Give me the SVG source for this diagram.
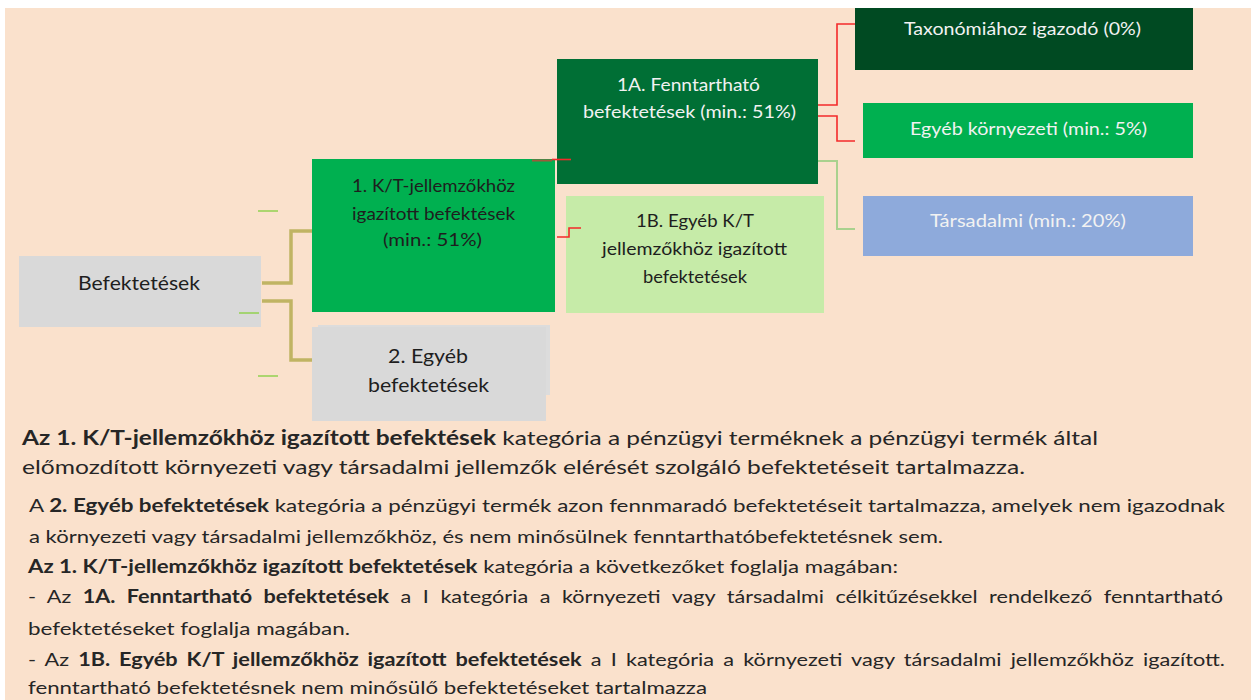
<svg xmlns="http://www.w3.org/2000/svg" width="1251" height="700" viewBox="0 0 1251 700">
<style>
  .lbl{font-family:Lato,"Open Sans","Liberation Sans",sans-serif;text-anchor:start}
  .dark{fill:#1e1e1e}
  .light{fill:#f2f2f2}
  .para{font-family:Lato,"Open Sans","Liberation Sans",sans-serif;fill:#262626}
  .b{font-weight:bold}
  .conn{fill:none;stroke-linejoin:miter}
  .olive{stroke:#c0b463;stroke-width:3.5}
  .red{stroke:#f42a2a;stroke-width:1.6}
  .lg{stroke:#a9d18e;stroke-width:2}
  .dash{stroke:#92d050;stroke-width:1.5}
</style>
<rect x="0" y="0" width="1251" height="700" fill="#ffffff"/>
<rect x="5" y="8" width="1246" height="692" fill="#fae1cc"/>

<g id="node-befektetesek">
  <rect x="19" y="256" width="242" height="71" fill="#d9d9d9"/>
  <text class="lbl dark" x="78" y="290" font-size="19" textLength="122" lengthAdjust="spacingAndGlyphs">Befektetések</text>
</g>
<g id="node-1">
  <rect x="312" y="159" width="243" height="153" fill="#00b050"/>
  <text class="lbl dark" x="352" y="192" font-size="17.5" textLength="163" lengthAdjust="spacingAndGlyphs">1. K/T-jellemzőkhöz</text>
  <text class="lbl dark" x="352" y="220" font-size="17.5" textLength="163" lengthAdjust="spacingAndGlyphs">igazított  befektések</text>
  <text class="lbl dark" x="383" y="246" font-size="17.5" textLength="99" lengthAdjust="spacingAndGlyphs">(min.: 51%)</text>
</g>
<g id="node-2">
  <rect x="318" y="325" width="232" height="70" fill="#dcdcdc"/>
  <rect x="312" y="327" width="234" height="94" fill="#d9d9d9"/>
  <text class="lbl dark" x="388" y="363" font-size="19" textLength="80" lengthAdjust="spacingAndGlyphs">2. Egyéb</text>
  <text class="lbl dark" x="368" y="392" font-size="19" textLength="121" lengthAdjust="spacingAndGlyphs">befektetések</text>
</g>
<g id="node-1a">
  <rect x="557" y="59" width="261" height="125" fill="#006f35"/>
  <text class="lbl light" x="617" y="91" font-size="17.5" textLength="143" lengthAdjust="spacingAndGlyphs">1A. Fenntartható</text>
  <text class="lbl light" x="583" y="118" font-size="17.5" textLength="213" lengthAdjust="spacingAndGlyphs">befektetések  (min.: 51%)</text>
</g>
<g id="node-1b">
  <rect x="566" y="196" width="258" height="117" fill="#c6eba8"/>
  <text class="lbl dark" x="636" y="227" font-size="16.5" textLength="118" lengthAdjust="spacingAndGlyphs">1B. Egyéb  K/T</text>
  <text class="lbl dark" x="602" y="255" font-size="16.5" textLength="185" lengthAdjust="spacingAndGlyphs">jellemzőkhöz  igazított</text>
  <text class="lbl dark" x="643" y="283" font-size="16.5" textLength="104" lengthAdjust="spacingAndGlyphs">befektetések</text>
</g>
<g id="node-taxonomia">
  <rect x="855" y="8" width="338" height="62" fill="#004a22"/>
  <text class="lbl light" x="904" y="35" font-size="17" textLength="237" lengthAdjust="spacingAndGlyphs">Taxonómiához  igazodó (0%)</text>
</g>
<g id="node-egyeb-kornyezeti">
  <rect x="863" y="103" width="330" height="55" fill="#00b050"/>
  <text class="lbl light" x="910" y="135" font-size="17" textLength="237" lengthAdjust="spacingAndGlyphs">Egyéb környezeti (min.: 5%)</text>
</g>
<g id="node-tarsadalmi">
  <rect x="863" y="196" width="330" height="60" fill="#8eaadb"/>
  <text class="lbl light" x="930" y="227" font-size="17" textLength="196" lengthAdjust="spacingAndGlyphs">Társadalmi  (min.: 20%)</text>
</g>

<g id="connectors">
  <path class="conn olive" d="M262,283 H291 V231 H312"/>
  <path class="conn olive" d="M262,301 H291 V360 H312"/>
  <path class="conn dash" d="M258,211 H278"/>
  <path class="conn dash" d="M239,313 H259"/>
  <path class="conn dash" d="M258,376 H278"/>
  <path class="conn" d="M532,160.5 H552" stroke="#9c5b3a" stroke-width="2"/>
  <path class="conn red" d="M552,159.5 H571"/>
  <path class="conn red" d="M557,237 H569 V228 H581"/>
  <path class="conn red" d="M818,105 H837 V24 H855"/>
  <path class="conn red" d="M818,116 H837 V141 H855"/>
  <path class="conn lg" d="M818,161 H837 V229 H855"/>
</g>

<g id="description">
  <text class="para" x="22" y="445" font-size="20" textLength="1076" lengthAdjust="spacingAndGlyphs"><tspan class="b">Az 1. K/T-jellemzőkhöz igazított befektések</tspan> kategória a pénzügyi terméknek a pénzügyi termék által</text>
  <text class="para" x="22" y="474" font-size="20" textLength="1003" lengthAdjust="spacingAndGlyphs">előmozdított környezeti vagy társadalmi jellemzők elérését szolgáló befektetéseit tartalmazza.</text>
  <text class="para" x="29" y="512" font-size="18" textLength="1196" lengthAdjust="spacingAndGlyphs">A <tspan class="b">2. Egyéb befektetések</tspan> kategória a pénzügyi termék azon fennmaradó befektetéseit tartalmazza, amelyek nem igazodnak</text>
  <text class="para" x="29" y="543" font-size="18" textLength="914" lengthAdjust="spacingAndGlyphs">a környezeti vagy társadalmi jellemzőkhöz, és nem minősülnek fenntarthatóbefektetésnek sem.</text>
  <text class="para" x="28" y="573" font-size="18" textLength="870" lengthAdjust="spacingAndGlyphs"><tspan class="b">Az 1. K/T-jellemzőkhöz igazított befektetések</tspan> kategória a következőket foglalja magában:</text>
  <text class="para" x="28" y="603" font-size="18" word-spacing="5" textLength="1195" lengthAdjust="spacingAndGlyphs">- Az <tspan class="b">1A. Fenntartható befektetések</tspan> a I kategória a környezeti vagy társadalmi célkitűzésekkel rendelkező fenntartható</text>
  <text class="para" x="28" y="635" font-size="18" textLength="322" lengthAdjust="spacingAndGlyphs">befektetéseket foglalja magában.</text>
  <text class="para" x="28" y="666" font-size="18" word-spacing="3" textLength="1197" lengthAdjust="spacingAndGlyphs">- Az <tspan class="b">1B. Egyéb K/T jellemzőkhöz igazított befektetések</tspan> a I kategória a környezeti vagy társadalmi jellemzőkhöz igazított.</text>
  <text class="para" x="28" y="694" font-size="18" textLength="679" lengthAdjust="spacingAndGlyphs">fenntartható befektetésnek nem minősülő befektetéseket tartalmazza</text>
</g>
</svg>
